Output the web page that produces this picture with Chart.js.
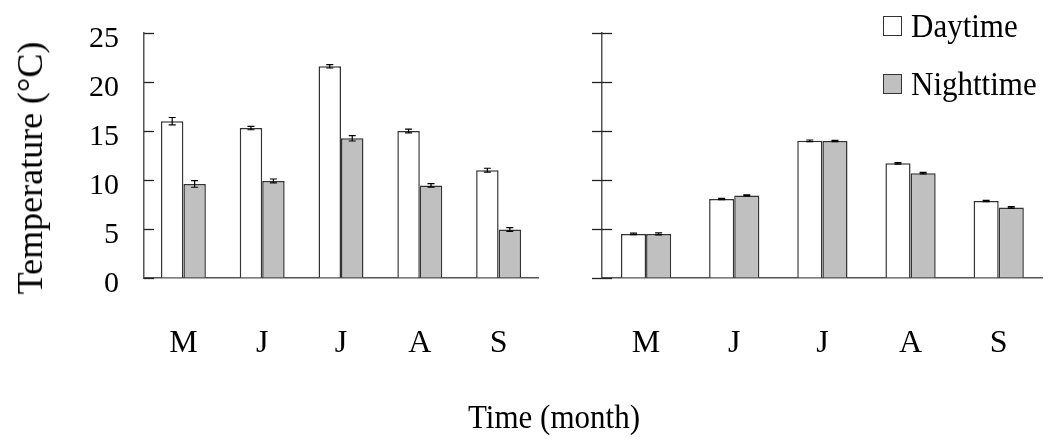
<!DOCTYPE html>
<html>
<head>
<meta charset="utf-8">
<script src="https://cdn.jsdelivr.net/npm/chart.js@4.4.1/dist/chart.umd.min.js"></script>
<style>
  body { margin: 0; background: #fff; }
  #wrap { position: relative; width: 1054px; height: 444px; font-family: "Liberation Serif", serif; color: #000; }
  canvas { position: absolute; top: 0; }
  #left { left: 0; }
  #right { left: 560px; }
  .txt { position: absolute; white-space: nowrap; line-height: 1; }
  #ytitle { left: 30px; top: 168px; font-size: 36px; transform: translate(-50%, -50%) rotate(-90deg); }
  #xtitle { left: 468px; top: 399px; font-size: 31px; transform: scaleY(1.1); transform-origin: left top; }
  #legend { position: absolute; left: 883px; top: 10px; }
  .item { display: flex; align-items: center; height: 31px; margin-bottom: 27px; font-size: 31px; }
  .item span.lbl { display: inline-block; transform: scaleY(1.1); }
  .box { width: 19px; height: 20px; border: 1px solid #333; margin-right: 9px; box-sizing: border-box; }
</style>
</head>
<body>
<div id="wrap">
  <canvas id="left" width="560" height="444"></canvas>
  <canvas id="right" width="494" height="444"></canvas>
  <div class="txt" id="ytitle">Temperature (°C)</div>
  <div class="txt" id="xtitle">Time (month)</div>
  <div id="legend"></div>
</div>
<script>
// Dữ liệu
const months = ['M', 'J', 'J', 'A', 'S'];
const yMax = 25;
const yStep = 5;

// panel trái
const dayLeft = [16.0, 15.3, 21.6, 15.0, 11.0];
const dayLeftErr = [0.38, 0.17, 0.17, 0.2, 0.2];
const nightLeft = [9.6, 9.9, 14.25, 9.45, 4.95];
const nightLeftErr = [0.34, 0.2, 0.27, 0.17, 0.2];

// panel phải
const dayRight = [4.5, 8.06, 14.0, 11.7, 7.86];
const dayRightErr = [0.08, 0.06, 0.08, 0.07, 0.07];
const nightRight = [4.5, 8.43, 13.98, 10.7, 7.2];
const nightRightErr = [0.1, 0.06, 0.06, 0.07, 0.08];

const FONT = 'Liberation Serif';

// vẽ thanh sai số
const errorBars = {
    id: 'errorBars',
    afterDatasetsDraw(chart) {
        const ctx = chart.ctx;
        const y = chart.scales.y;
        ctx.save();
        ctx.strokeStyle = '#000';
        ctx.lineWidth = 1.2;
        chart.data.datasets.forEach((ds, i) => {
            chart.getDatasetMeta(i).data.forEach((bar, j) => {
                const v = ds.data[j], e = ds.errors[j];
                const top = y.getPixelForValue(v + e);
                const bot = y.getPixelForValue(v - e);
                ctx.beginPath();
                ctx.moveTo(bar.x, top); ctx.lineTo(bar.x, bot);
                ctx.moveTo(bar.x - 3.5, top); ctx.lineTo(bar.x + 3.5, top);
                ctx.moveTo(bar.x - 3.5, bot); ctx.lineTo(bar.x + 3.5, bot);
                ctx.stroke();
            });
        });
        ctx.restore();
    }
};

// vạch chia trục Y (vào trong / ra ngoài)
const tickMarks = {
    id: 'tickMarks',
    afterDraw(chart, args, opts) {
        const ctx = chart.ctx;
        const s = chart.scales.y;
        const x0 = s.right;
        ctx.save();
        ctx.strokeStyle = '#222';
        ctx.lineWidth = 1.3;
        s.ticks.forEach(t => {
            const py = Math.round(s.getPixelForValue(t.value)) + 0.5;
            ctx.beginPath();
            ctx.moveTo(x0 - opts.outer, py);
            ctx.lineTo(x0 + opts.inner, py);
            ctx.stroke();
        });
        ctx.restore();
    }
};

function makeChart(id, day, dayErr, night, nightErr, axisWidth, padRight, showLabels, inner, outer) {
    return new Chart(document.getElementById(id), {
        type: 'bar',
        data: {
            labels: months,
            datasets: [
                {
                    label: 'Daytime',
                    data: day,
                    errors: dayErr,
                    backgroundColor: '#ffffff',
                    borderColor: '#333',
                    borderWidth: 1.5
                },
                {
                    label: 'Nighttime',
                    data: night,
                    errors: nightErr,
                    backgroundColor: '#c0c0c0',
                    borderColor: '#333',
                    borderWidth: 1.5
                }
            ]
        },
        options: {
            responsive: false,
            animation: false,
            layout: { padding: { top: 33, right: padRight, left: 0, bottom: 0 } },
            plugins: {
                legend: { display: false },
                tooltip: { enabled: false },
                tickMarks: { inner: inner, outer: outer }
            },
            datasets: {
                bar: { categoryPercentage: 0.57, barPercentage: 1.0 }
            },
            scales: {
                x: {
                    grid: { display: false, drawTicks: false },
                    border: { color: '#555', width: 1.5 },
                    ticks: {
                        color: '#000',
                        font: { family: FONT, size: 32 },
                        padding: 46,
                        maxRotation: 0,
                        autoSkip: false
                    },
                    afterFit: s => { s.height = 444 - 278; }
                },
                y: {
                    min: 0,
                    max: yMax,
                    // vạch thật do plugin vẽ, ở đây chỉ để lấy khoảng cách nhãn
                    grid: { display: true, drawOnChartArea: false, drawTicks: true, tickLength: 11, color: 'rgba(0,0,0,0)' },
                    border: { color: '#555', width: 1.5 },
                    ticks: {
                        display: showLabels,
                        stepSize: yStep,
                        color: '#000',
                        font: { family: FONT, size: 30 },
                        padding: 14,
                        labelOffset: 6
                    },
                    afterFit: s => { s.width = axisWidth; }
                }
            }
        },
        plugins: [errorBars, tickMarks]
    });
}

const leftChart = makeChart('left', dayLeft, dayLeftErr, nightLeft, nightLeftErr, 144, 22, true, 10, 0);
const rightChart = makeChart('right', dayRight, dayRightErr, nightRight, nightRightErr, 42, 4, false, 10, 10);

// chú thích
const legend = document.getElementById('legend');
rightChart.data.datasets.forEach(ds => {
    const item = document.createElement('div');
    item.className = 'item';
    const box = document.createElement('span');
    box.className = 'box';
    box.style.background = ds.backgroundColor;
    item.appendChild(box);
    const lbl = document.createElement('span');
    lbl.className = 'lbl';
    lbl.textContent = ds.label;
    item.appendChild(lbl);
    legend.appendChild(item);
});
</script>
</body>
</html>
